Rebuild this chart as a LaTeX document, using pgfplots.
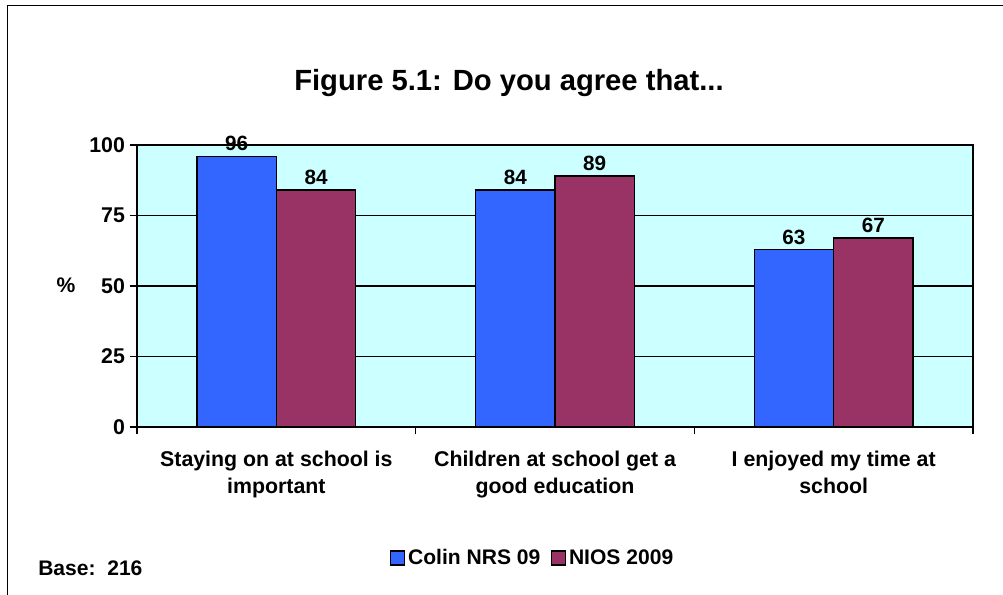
\documentclass[border=0pt]{standalone}
\usepackage{pgfplots}
\pgfplotsset{compat=1.18}
\usepackage{fontspec}
\setmainfont{Liberation Sans}
\definecolor{cblue}{HTML}{3366FF}
\definecolor{cmaroon}{HTML}{993366}
\definecolor{cbg}{HTML}{CCFFFF}
\begin{document}
\begin{tikzpicture}[x=1pt,y=1pt]
\useasboundingbox (0,0) rectangle (752.25,445.5);
\draw[line width=0.75pt] (5.6,-5) -- (5.6,441) -- (760,441);
\begin{axis}[
  at={(102.75pt,125.25pt)}, anchor=south west,
  scale only axis, width=627pt, height=211.5pt,
  ybar, bar width=0.285,
  ymin=0, ymax=100, xmin=-0.5, xmax=2.5,
  ytick={0,25,50,75,100},
  xtick={0,1,2},
  xticklabels={Staying on at school is\\important, Children at school get a\\good education, I enjoyed my time at\\school},
  minor xtick={-0.5,0.5,1.5,2.5},
  major x tick style={draw=none},
  minor x tick style={black, line width=1pt},
  major y tick style={black, line width=1pt},
  tick align=outside,
  tick pos=left,
  major tick length=5.5pt,
  minor tick length=5.5pt,
  ymajorgrids,
  major grid style={black, line width=1pt},
  axis line style={line width=1.5pt},
  axis background/.style={fill=cbg},
  /pgf/number format/assume math mode=true,
  ticklabel style={font=\fontsize{16}{20.25}\selectfont\bfseries},
  xticklabel style={align=center, yshift=-9pt},
  nodes near coords,
  nodes near coords style={font=\fontsize{15.5}{18}\selectfont\bfseries, black},
  legend columns=2,
  legend style={draw=none, fill=none, at={(0.4737,-0.4645)}, anchor=center,
    font=\fontsize{15.8}{18}\selectfont\bfseries,
    /tikz/every even column/.append style={column sep=6pt}},
  legend image code/.code={\draw[#1, line width=1pt] (0pt,-5.25pt) rectangle (10.5pt,5.25pt);},
]
\addplot[bar shift=-0.1425, fill=cblue, draw=black, line width=1pt] coordinates {(0,96) (1,84) (2,63)};
\addplot[bar shift=0.1425, fill=cmaroon, draw=black, line width=1pt] coordinates {(0,84) (1,89) (2,67)};
\legend{Colin NRS 09, NIOS 2009}
\end{axis}
\node[anchor=base, font=\fontsize{21.9}{26}\selectfont\bfseries] at (381.75,377.25) {Figure 5.1: Do you agree that...};
\node[anchor=center, font=\fontsize{15.8}{18}\selectfont\bfseries] at (49.5,231.75) {\%};
\node[anchor=base west, font=\fontsize{15.8}{18}\selectfont\bfseries, inner sep=0pt] at (28.5,14.25) {Base:\ \ 216};
\end{tikzpicture}
\end{document}
